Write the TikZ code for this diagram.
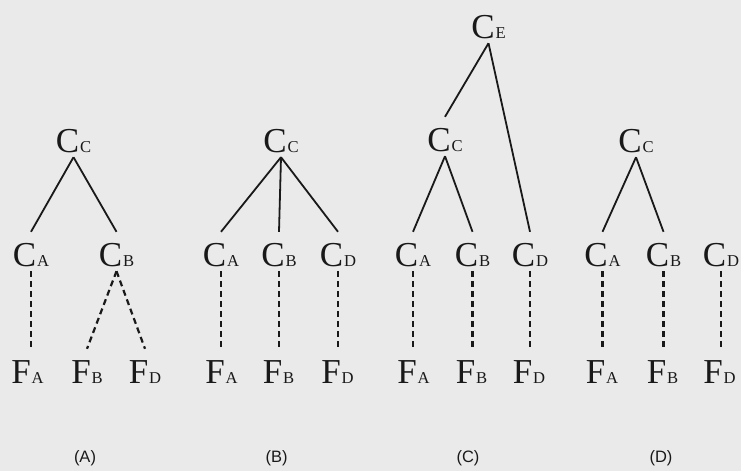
\documentclass[tikz,border=0pt]{standalone}
\usepackage{fontspec}
\setmainfont{Liberation Serif}
\setsansfont{Liberation Sans}
\definecolor{bg}{RGB}{234,234,234}
\definecolor{ink}{RGB}{25,25,25}
\newcommand\symb[2]{#1\kern0.8pt{\fontsize{16.6}{18}\selectfont #2}}
\begin{document}
\begin{tikzpicture}[x=1pt,y=-1pt,
  lab/.style={inner sep=0pt, anchor=base, text height=34pt, text depth=5pt,
    font=\fontsize{35}{40}\selectfont, text=ink},
  solidln/.style={draw=ink, line width=1.8pt},
  dashln/.style={draw=ink, line width=2.2pt, dash pattern=on 6pt off 4pt},
  capt/.style={anchor=base, inner sep=0pt, font=\sffamily\fontsize{16.5}{18}\selectfont, text=ink}]
\fill[bg] (0,0) rectangle (741,471);
\useasboundingbox (0,0) rectangle (741,471);

% ---------- Panel A ----------
\node[lab] (aCC) at (73.5,152) {\symb{C}{C}};
\node[lab] (aCA) at (31,266) {\symb{C}{A}};
\node[lab] (aCB) at (116.5,266) {\symb{C}{B}};
\node[lab] (aFA) at (27.5,383) {\symb{F}{A}};
\node[lab] (aFB) at (87,383) {\symb{F}{B}};
\node[lab] (aFD) at (145,383) {\symb{F}{D}};
\draw[solidln] (aCC.south) -- (aCA.north);
\draw[solidln] (aCC.south) -- (aCB.north);
\draw[dashln] (aCA.south) -- (aCA.south |- aFA.north);
\draw[dashln] (aCB.south) -- (aFB.north);
\draw[dashln] (aCB.south) -- (aFD.north);
\node[capt] (capA) at (85,462) {(A)};

% ---------- Panel B ----------
\node[lab] (bCC) at (281,152) {\symb{C}{C}};
\node[lab] (bCA) at (221,266) {\symb{C}{A}};
\node[lab] (bCB) at (279,266) {\symb{C}{B}};
\node[lab] (bCD) at (338,266) {\symb{C}{D}};
\node[lab] (bFA) at (221.5,383) {\symb{F}{A}};
\node[lab] (bFB) at (278.5,383) {\symb{F}{B}};
\node[lab] (bFD) at (337.5,383) {\symb{F}{D}};
\draw[solidln] (bCC.south) -- (bCA.north);
\draw[solidln] (bCC.south) -- (bCB.north);
\draw[solidln] (bCC.south) -- (bCD.north);
\draw[dashln] (bCA.south) -- (bCA.south |- bFA.north);
\draw[dashln] (bCB.south) -- (bCB.south |- bFB.north);
\draw[dashln] (bCD.south) -- (bCD.south |- bFD.north);
\node[capt] (capB) at (276.5,462) {(B)};

% ---------- Panel C ----------
\node[lab] (cCE) at (488.5,38) {\symb{C}{E}};
\node[lab] (cCC) at (445,151) {\symb{C}{C}};
\node[lab] (cCA) at (413,266) {\symb{C}{A}};
\node[lab] (cCB) at (472.5,266) {\symb{C}{B}};
\node[lab] (cCD) at (530,266) {\symb{C}{D}};
\node[lab] (cFA) at (413.5,383) {\symb{F}{A}};
\node[lab] (cFB) at (471.5,383) {\symb{F}{B}};
\node[lab] (cFD) at (529,383) {\symb{F}{D}};
\draw[solidln] (cCE.south) -- (cCC.north);
\draw[solidln] (cCE.south) -- (cCD.north);
\draw[solidln] (cCC.south) -- (cCA.north);
\draw[solidln] (cCC.south) -- (cCB.north);
\draw[dashln] (cCA.south) -- (cCA.south |- cFA.north);
\draw[dashln] (cCB.south) -- (cCB.south |- cFB.north);
\draw[dashln] (cCD.south) -- (cCD.south |- cFD.north);
\node[capt] (capC) at (468,462) {(C)};

% ---------- Panel D ----------
\node[lab] (dCC) at (636,152) {\symb{C}{C}};
\node[lab] (dCA) at (602.5,266) {\symb{C}{A}};
\node[lab] (dCB) at (663.5,266) {\symb{C}{B}};
\node[lab] (dCD) at (721,266) {\symb{C}{D}};
\node[lab] (dFA) at (602,383) {\symb{F}{A}};
\node[lab] (dFB) at (662.5,383) {\symb{F}{B}};
\node[lab] (dFD) at (719.5,383) {\symb{F}{D}};
\draw[solidln] (dCC.south) -- (dCA.north);
\draw[solidln] (dCC.south) -- (dCB.north);
\draw[dashln] (dCA.south) -- (dCA.south |- dFA.north);
\draw[dashln] (dCB.south) -- (dCB.south |- dFB.north);
\draw[dashln] (dCD.south) -- (dCD.south |- dFD.north);
\node[capt] (capD) at (661,462) {(D)};
\end{tikzpicture}
\end{document}
